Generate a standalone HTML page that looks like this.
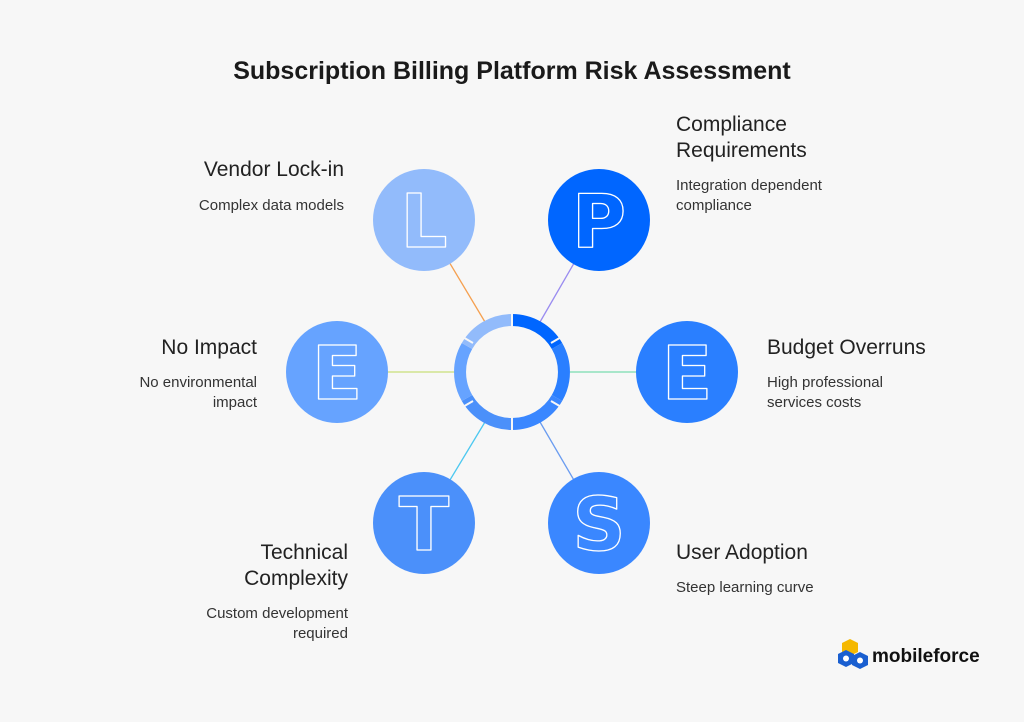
<!DOCTYPE html>
<html><head><meta charset="utf-8"><style>
body{margin:0;background:#f7f7f7;font-family:"Liberation Sans",sans-serif;color:#222}
.w{position:relative;width:1024px;height:722px;overflow:hidden}
.t{position:absolute;font-size:21px;line-height:26px}
.d{position:absolute;font-size:15px;line-height:20px;color:#333}
.r{text-align:right}
.lt{font-family:"DejaVu Sans",sans-serif;font-weight:bold;font-size:74px}
</style></head><body><div class="w">
<svg width="1024" height="722" style="position:absolute;left:0;top:0">
<text x="512" y="79" text-anchor="middle" style="font-family:'Liberation Sans';font-weight:bold;font-size:25px" fill="#1a1a1a">Subscription Billing Platform Risk Assessment</text>
<g stroke-width="1.3">
<line x1="424" y1="220" x2="485" y2="322" stroke="#f5a050"/>
<line x1="599" y1="220" x2="540" y2="322" stroke="#9a8cf0"/>
<line x1="337" y1="372" x2="455" y2="372" stroke="#c8e07a"/>
<line x1="687" y1="372" x2="570" y2="372" stroke="#7adcb0"/>
<line x1="424" y1="523" x2="485" y2="422" stroke="#4cc8f0"/>
<line x1="599" y1="523" x2="540" y2="422" stroke="#6a9cf0"/>
</g>
<g fill="none" stroke-width="12">
<path d="M512 320 A52 52 0 0 1 557 346" stroke="#0066ff"/>
<path d="M557 346 A52 52 0 0 1 557 398" stroke="#2a7fff"/>
<path d="M557 398 A52 52 0 0 1 512 424" stroke="#3a87ff"/>
<path d="M512 424 A52 52 0 0 1 467 398" stroke="#4b90fa"/>
<path d="M467 398 A52 52 0 0 1 467 346" stroke="#66a3ff"/>
<path d="M467 346 A52 52 0 0 1 512 320" stroke="#92bbfb"/>
</g>
<g stroke="#f7f7f7" stroke-width="2">
<line x1="512" y1="313" x2="512" y2="327"/><line x1="512" y1="417" x2="512" y2="431"/>
<line x1="551" y1="343" x2="563" y2="336"/><line x1="551" y1="401" x2="563" y2="408"/>
<line x1="473" y1="343" x2="461" y2="336"/><line x1="473" y1="401" x2="461" y2="408"/>
</g>
<circle cx="424" cy="220" r="51" fill="#92bbfb"/>
<circle cx="599" cy="220" r="51" fill="#0066ff"/>
<circle cx="337" cy="372" r="51" fill="#66a3ff"/>
<circle cx="687" cy="372" r="51" fill="#2a7fff"/>
<circle cx="424" cy="523" r="51" fill="#4b90fa"/>
<circle cx="599" cy="523" r="51" fill="#3a87ff"/>
<g class="lt" fill="none" stroke="#fff" stroke-width="1.3" stroke-linejoin="round" text-anchor="middle">
<text x="424" y="247">L</text><text x="599" y="247">P</text>
<text x="337" y="399">E</text><text x="687" y="399">E</text>
<text x="424" y="550">T</text><text x="599" y="550">S</text>
</g>
<g transform="translate(838,638)">
<path d="M12 1 l8 4 v9 l-8 4 l-8 -4 v-9z" fill="#f5b800"/>
<path d="M8 12 l8 4 v9 l-8 4 l-8 -4 v-9z" fill="#1a5fd0"/>
<path d="M22 14 l8 4 v9 l-8 4 l-8 -4 v-9z" fill="#1a5fd0"/>
<circle cx="8" cy="20.5" r="3" fill="#fff"/><circle cx="22" cy="22.5" r="3" fill="#fff"/>
</g>
<text x="872" y="662" style="font-family:'Liberation Sans';font-weight:bold;font-size:19px" fill="#111">mobileforce</text>
</svg>
<div class="t" style="left:676px;top:112px">Compliance<br>Requirements</div>
<div class="d" style="left:676px;top:176px">Integration dependent<br>compliance</div>
<div class="t r" style="right:680px;top:157px">Vendor Lock-in</div>
<div class="d r" style="right:680px;top:196px">Complex data models</div>
<div class="t r" style="right:767px;top:335px">No Impact</div>
<div class="d r" style="right:767px;top:373px">No environmental<br>impact</div>
<div class="t" style="left:767px;top:335px">Budget Overruns</div>
<div class="d" style="left:767px;top:373px">High professional<br>services costs</div>
<div class="t r" style="right:676px;top:540px">Technical<br>Complexity</div>
<div class="d r" style="right:676px;top:604px">Custom development<br>required</div>
<div class="t" style="left:676px;top:540px">User Adoption</div>
<div class="d" style="left:676px;top:578px">Steep learning curve</div>
</div></body></html>
